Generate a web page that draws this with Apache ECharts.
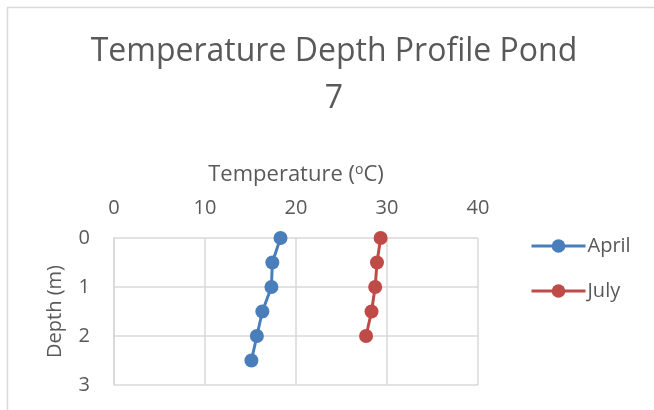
<!DOCTYPE html>
<html>
<head>
<meta charset="utf-8">
<script src="https://cdn.jsdelivr.net/npm/echarts@6/dist/echarts.min.js"></script>
<style>
  html, body { margin: 0; padding: 0; background: #fff; }
  #chart { width: 654px; height: 410px; }
</style>
</head>
<body>
<div id="chart"></div>
<script>
// Depth of each reading (m)
const aprilDepth = [0, 0.5, 1, 1.5, 2, 2.5];
const julyDepth = [0, 0.5, 1, 1.5, 2];
// Water temperature at each depth (°C)
const aprilTemp = [18.3, 17.4, 17.3, 16.3, 15.7, 15.1];
const julyTemp = [29.3, 28.9, 28.7, 28.3, 27.7];
const seriesNames = ['April', 'July'];
const seriesColors = ['#4a7ebb', '#be4b48'];

const FONT = '"Open Sans", "Noto Sans", sans-serif';
const TEXT = '#595959';

function pairs(t, d) { return t.map((v, i) => [v, d[i]]); }

const chart = echarts.init(document.getElementById('chart'), null, { renderer: 'canvas' });

chart.setOption({
  animation: false,
  backgroundColor: '#fff',
  graphic: [{
    type: 'rect',
    left: 5, top: 5,
    shape: { width: 700, height: 450 },
    style: { fill: 'none', stroke: '#d9d9d9', lineWidth: 1.5 },
    silent: true, z: -1
  }],
  title: {
    text: 'Temperature Depth Profile Pond\n7',
    left: 329,
    textAlign: 'center',
    top: 23,
    textStyle: { fontFamily: FONT, fontSize: 32, fontWeight: 'normal', color: TEXT, lineHeight: 47 }
  },
  legend: {
    orient: 'vertical',
    left: 525, top: 231,
    itemWidth: 54, itemHeight: 17,
    itemGap: 25,
    data: seriesNames,
    lineStyle: { width: 3 },
    textStyle: { fontFamily: FONT, fontSize: 20, lineHeight: 20, color: TEXT, padding: [0, 0, 0, -3] }
  },
  grid: { left: 114, right: 176, top: 238, bottom: 25 },
  xAxis: {
    type: 'value', position: 'top',
    min: 0, max: 40, interval: 10,
    name: '{t|Temperature (}{s|o}{t|C)}',
    nameLocation: 'middle', nameGap: 52,
    nameTextStyle: {
      rich: {
        t: { fontFamily: FONT, fontSize: 22, color: TEXT },
        s: { fontFamily: FONT, fontSize: 14, color: TEXT, verticalAlign: 'top', padding: [0, 0, 9, 0] }
      }
    },
    axisLine: { show: false },
    axisTick: { show: false },
    axisLabel: { fontFamily: FONT, fontSize: 20, color: TEXT, margin: 20 },
    splitLine: { show: true, lineStyle: { color: '#d9d9d9', width: 1.5 } }
  },
  yAxis: {
    type: 'value', inverse: true,
    min: 0, max: 3, interval: 1,
    name: 'Depth (m)',
    nameLocation: 'middle', nameGap: 49, nameRotate: 90,
    nameTextStyle: { fontFamily: FONT, fontSize: 20, color: TEXT },
    axisLine: { show: true, lineStyle: { color: '#d9d9d9', width: 1.5 } },
    axisTick: { show: false },
    axisLabel: { fontFamily: FONT, fontSize: 20, color: TEXT, margin: 24 },
    splitLine: { show: true, lineStyle: { color: '#d9d9d9', width: 1.5 } }
  },
  series: [
    {
      name: seriesNames[0], type: 'line',
      data: pairs(aprilTemp, aprilDepth),
      color: seriesColors[0],
      symbol: 'circle', symbolSize: 14,
      lineStyle: { width: 3 },
      itemStyle: { color: seriesColors[0] }
    },
    {
      name: seriesNames[1], type: 'line',
      data: pairs(julyTemp, julyDepth),
      color: seriesColors[1],
      symbol: 'circle', symbolSize: 14,
      lineStyle: { width: 3 },
      itemStyle: { color: seriesColors[1] }
    }
  ]
});
</script>
</body>
</html>
